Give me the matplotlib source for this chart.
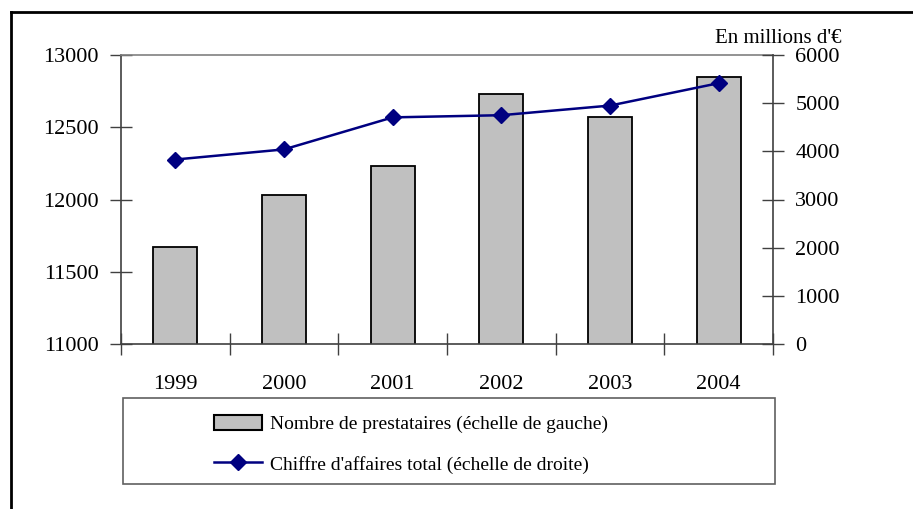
import matplotlib.pyplot as plt
import numpy as np
from matplotlib.patches import Rectangle
from matplotlib.lines import Line2D

plt.rcParams['font.family'] = ['Liberation Serif', 'DejaVu Serif']

# data
years = ['1999', '2000', '2001', '2002', '2003', '2004']
prestataires = [11670, 12030, 12235, 12730, 12570, 12845]
chiffre_affaires = [3830, 4040, 4705, 4750, 4950, 5415]

left_ticks = [11000, 11500, 12000, 12500, 13000]
right_ticks = [0, 1000, 2000, 3000, 4000, 5000, 6000]

bar_color = '#c0c0c0'
line_color = '#000080'
axis_color = '#404040'

W, H = 913, 509
fig = plt.figure(figsize=(W / 100, H / 100), dpi=100)
ax = fig.add_axes([121 / W, 1 - 344 / H, (773 - 121) / W, (344 - 55) / H])

x = np.arange(len(years))
ax.bar(x, prestataires, width=0.405, color=bar_color, edgecolor='black',
       linewidth=1.3, zorder=2)
ax.set_xlim(-0.5, len(years) - 0.5)
ax.set_ylim(11000, 13000)
ax.set_yticks(left_ticks)
ax.set_yticklabels([str(v) for v in left_ticks])

# category labels at centres, tick marks on boundaries
ax.set_xticks(x)
ax.set_xticklabels(years)
ax.set_xticks(np.arange(-0.5, len(years)), minor=True)
ax.tick_params(axis='x', which='major', length=0, pad=22, labelsize=16)
ax.tick_params(axis='x', which='minor', direction='inout', length=16,
               width=1, color=axis_color)
ax.tick_params(axis='y', direction='inout', length=16, width=1,
               color=axis_color, pad=8, labelsize=16)

for s in ['left', 'bottom']:
    ax.spines[s].set_color(axis_color)
    ax.spines[s].set_linewidth(1.2)
ax.spines['top'].set_color('#808080')
ax.spines['top'].set_linewidth(1.2)
ax.spines['right'].set_visible(False)

ax2 = ax.twinx()
ax2.plot(x, chiffre_affaires, color=line_color, linewidth=1.8, marker='D',
         markersize=8, zorder=3)
ax2.set_ylim(0, 6000)
ax2.set_yticks(right_ticks)
ax2.set_yticklabels([str(v) for v in right_ticks])
ax2.tick_params(axis='y', direction='inout', length=16, width=1,
                color=axis_color, pad=8, labelsize=16)
for s in ['left', 'top', 'bottom']:
    ax2.spines[s].set_visible(False)
ax2.spines['right'].set_color(axis_color)
ax2.spines['right'].set_linewidth(1.2)

fig.text(841 / W, 1 - 43 / H, "En millions d'€", ha='right', va='baseline',
         fontsize=15)

# legend box
fig.patches.append(Rectangle((123 / W, 1 - 484 / H), (775 - 123) / W,
                             (484 - 398) / H, transform=fig.transFigure,
                             facecolor='white', edgecolor='#606060',
                             linewidth=1.2))
handles = [
    Rectangle((0, 0), 1, 1, facecolor=bar_color, edgecolor='black',
              linewidth=1.5),
    Line2D([], [], color=line_color, linewidth=1.8, marker='D', markersize=8),
]
labels = ["Nombre de prestataires (échelle de gauche)",
          "Chiffre d'affaires total (échelle de droite)"]
fig.legend(handles, labels, loc='upper left',
           bbox_to_anchor=(204 / W, 1 - 405 / H), frameon=False,
           fontsize=14, borderpad=0, handlelength=2.5, handleheight=0.8,
           handletextpad=0.4, labelspacing=1.15, numpoints=1)

# outer frame (top and left edges)
fig.lines.append(Line2D([11 / W, 1], [1 - 12 / H, 1 - 12 / H],
                        transform=fig.transFigure, color='black', linewidth=2))
fig.lines.append(Line2D([11 / W, 11 / W], [0, 1 - 12 / H],
                        transform=fig.transFigure, color='black', linewidth=2))

fig.savefig('out.png', dpi=100)
